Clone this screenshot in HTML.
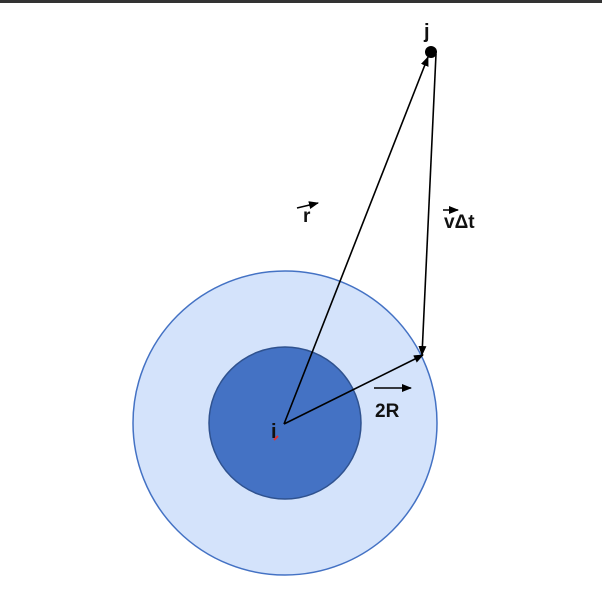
<!DOCTYPE html>
<html><head><meta charset="utf-8"><style>
html,body{margin:0;padding:0;background:#fff;}
svg{display:block;}
text{font-family:"Liberation Sans","DejaVu Sans",sans-serif;font-weight:bold;fill:#111;}
</style></head><body>
<svg width="602" height="613" viewBox="0 0 602 613">
<defs>
<marker id="ah" markerWidth="10" markerHeight="8" refX="9" refY="4" orient="auto" markerUnits="userSpaceOnUse">
<path d="M0,0 L10,4 L0,8 z" fill="#000"/>
</marker>
</defs>
<rect x="0" y="0" width="602" height="3" fill="#333"/>
<circle cx="285" cy="423" r="152" fill="#d4e3fb" stroke="#4472c4" stroke-width="1.5"/>
<circle cx="285" cy="423" r="76" fill="#4472c4" stroke="#2f528f" stroke-width="1.5"/>
<line x1="284" y1="424" x2="428" y2="57" stroke="#000" stroke-width="1.6" marker-end="url(#ah)"/>
<line x1="436" y1="54" x2="422" y2="355" stroke="#000" stroke-width="1.6" marker-end="url(#ah)"/>
<line x1="284" y1="424" x2="423" y2="355" stroke="#000" stroke-width="1.6" marker-end="url(#ah)"/>
<circle cx="431" cy="52" r="6" fill="#000"/>
<text x="424" y="38" font-size="20">j</text>
<text x="271" y="438" font-size="20">i</text>
<line x1="274" y1="440" x2="278" y2="436" stroke="#d33" stroke-width="2"/>
<line x1="297" y1="208" x2="318" y2="203" stroke="#000" stroke-width="1.5" marker-end="url(#ah)"/>
<text x="303" y="222" font-size="19">r</text>
<line x1="443" y1="210" x2="458" y2="210" stroke="#000" stroke-width="1.5" marker-end="url(#ah)"/>
<text x="444" y="228" font-size="19">vΔt</text>
<line x1="374" y1="388" x2="411" y2="388" stroke="#000" stroke-width="1.6" marker-end="url(#ah)"/>
<text x="375" y="417" font-size="19">2R</text>
</svg>
</body></html>
